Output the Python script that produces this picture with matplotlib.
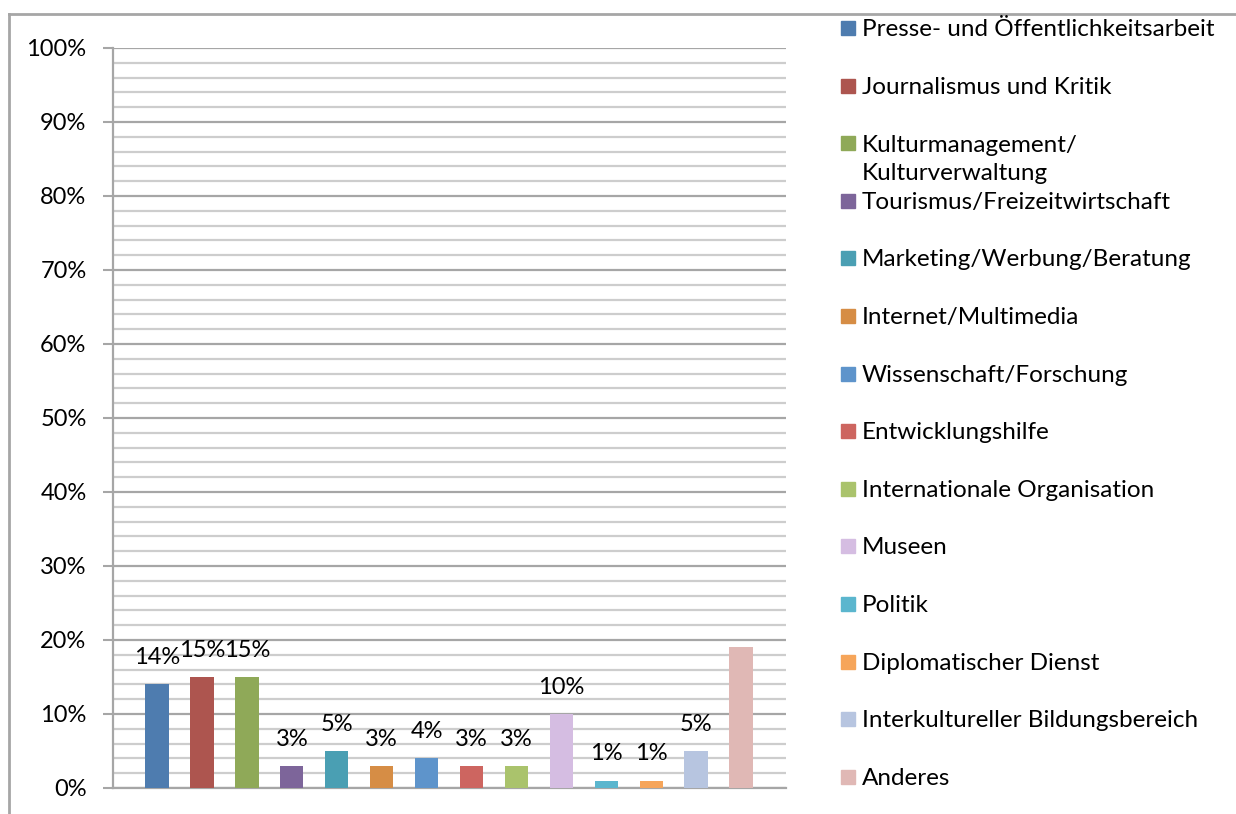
import numpy as np
import matplotlib.pyplot as plt
from matplotlib.lines import Line2D
from matplotlib.patches import Rectangle
from matplotlib.ticker import MultipleLocator, PercentFormatter

categories = ["Presse- und Öffentlichkeitsarbeit", "Journalismus und Kritik",
              "Kulturmanagement/\nKulturverwaltung", "Tourismus/Freizeitwirtschaft",
              "Marketing/Werbung/Beratung", "Internet/Multimedia",
              "Wissenschaft/Forschung", "Entwicklungshilfe",
              "Internationale Organisation", "Museen", "Politik",
              "Diplomatischer Dienst", "Interkultureller Bildungsbereich", "Anderes"]
values = [14, 15, 15, 3, 5, 3, 4, 3, 3, 10, 1, 1, 5, 19]
show_label = [True] * 13 + [False]
colors = ["#4E7CAF", "#AD554F", "#8FA958", "#7D659A", "#4A9FB3", "#D68D45",
          "#5E94CB", "#CD6560", "#AAC36C", "#D5BDE2", "#5BB6CE", "#F6A55A",
          "#B7C5E0", "#E0B8B5"]

plt.rcParams['font.family'] = ['Lato', 'DejaVu Sans']

fig = plt.figure(figsize=(12.36, 8.14), dpi=100)
ax = fig.add_axes([113/1236, 26/814, (786-113)/1236, 740/814])

x = np.arange(len(values))
ax.bar(x, values, width=0.52, color=colors, zorder=3)
for xi, v, s in zip(x, values, show_label):
    if s:
        ax.text(xi, v + 2.2, f"{v}%", ha='center', va='bottom', fontsize=17, color='black', zorder=4)

ax.set_ylim(0, 100)
ax.set_xlim(-0.98, 14.0)
ax.yaxis.set_major_locator(MultipleLocator(10))
ax.yaxis.set_minor_locator(MultipleLocator(2))
ax.yaxis.set_major_formatter(PercentFormatter(decimals=0))
ax.grid(which='major', axis='y', color='#A6A6A6', linewidth=1.6, zorder=1)
ax.grid(which='minor', axis='y', color='#CDCDCD', linewidth=1.6, zorder=1)
ax.set_xticks([])
ax.tick_params(axis='y', which='major', length=7, width=1.5, color='#A6A6A6', pad=12, labelsize=17)
ax.tick_params(axis='y', which='minor', length=0)
for side in ['top', 'right']:
    ax.spines[side].set_visible(False)
ax.spines['left'].set_color('#A6A6A6')
ax.spines['left'].set_linewidth(1.6)
ax.spines['bottom'].set_color('#A6A6A6')
ax.spines['bottom'].set_linewidth(1.6)

# outer chart border
fig.add_artist(Line2D([9/1236, 9/1236], [0, 1 - 14/814], transform=fig.transFigure, color='#A6A6A6', lw=2))
fig.add_artist(Line2D([9/1236, 1], [1 - 14/814, 1 - 14/814], transform=fig.transFigure, color='#A6A6A6', lw=2))

# legend (baseline of multi-line text sits on the last line, so push it down)
for i, (cat, c) in enumerate(zip(categories, colors)):
    yc = 28 + i * 57.6
    fig.add_artist(Rectangle((841/1236, 1 - (yc + 7)/814), 14/1236, 14/814,
                             transform=fig.transFigure, color=c))
    extra = cat.count('\n') * 29
    fig.text(862/1236, 1 - (yc + 8 + extra)/814, cat, ha='left', va='baseline', fontsize=17.5,
             linespacing=1.45)

fig.savefig('out.png', dpi=100)
